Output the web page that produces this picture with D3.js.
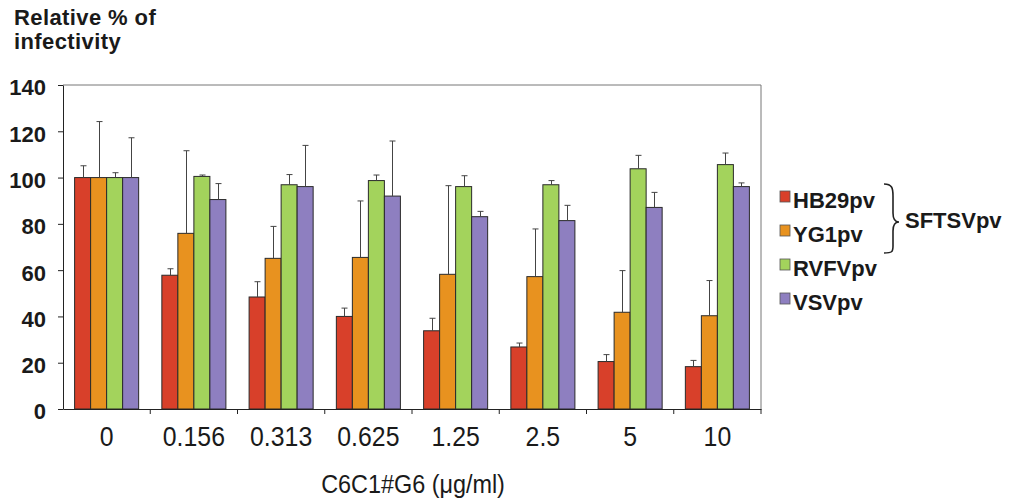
<!DOCTYPE html>
<html>
<head>
<meta charset="utf-8">
<script src="https://cdn.jsdelivr.net/npm/d3@7"></script>
<style>
  body { margin: 0; background: #fff; }
  text { font-family: "Liberation Sans", Arial, sans-serif; fill: #1a1a1a; }
</style>
</head>
<body>
<svg id="chart" width="1016" height="499"></svg>
<script>
// concentrations of C6C1#G6
const categories = ["0", "0.156", "0.313", "0.625", "1.25", "2.5", "5", "10"];
const seriesNames = ["HB29pv", "YG1pv", "RVFVpv", "VSVpv"];
const seriesColors = ["#d8402a", "#e8921f", "#a3d35c", "#8e7fc0"];

// mean relative % of infectivity
const hb29 = [100, 57.8, 48.4, 40.0, 33.8, 26.8, 20.5, 18.3];
const yg1 = [100, 75.9, 65.1, 65.5, 58.2, 57.2, 41.8, 40.3];
const rvfv = [100, 100.5, 96.9, 98.7, 96.1, 96.9, 103.8, 105.6];
const vsv = [100, 90.5, 96.1, 92.0, 83.1, 81.4, 87.1, 96.1];

// top of error bar (mean + sd)
const hb29Err = [105.1, 60.6, 55.0, 43.6, 39.2, 28.5, 23.5, 21.0];
const yg1Err = [124.2, 111.6, 78.9, 89.9, 96.5, 77.8, 59.8, 55.5];
const rvfvErr = [102.1, 101.1, 101.3, 101.1, 100.8, 98.7, 109.6, 110.6];
const vsvErr = [117.2, 97.4, 113.9, 115.8, 85.4, 88.0, 93.6, 97.7];

const yTicks = [0, 20, 40, 60, 80, 100, 120, 140];

const values = [hb29, yg1, rvfv, vsv];
const errs = [hb29Err, yg1Err, rvfvErr, vsvErr];

const plotLeft = 63, plotRight = 761, plotTop = 85, plotBottom = 409;

const svg = d3.select("#chart");

const x0 = d3.scaleBand()
    .domain(categories)
    .range([plotLeft, plotRight])
    .paddingInner(0.266)
    .paddingOuter(0.133);

const x1 = d3.scaleBand()
    .domain(seriesNames)
    .range([0, x0.bandwidth()]);

const y = d3.scaleLinear().domain([0, 140]).range([plotBottom, plotTop]);

// frame lines (top + right)
svg.append("path")
    .attr("d", `M${plotLeft},${plotTop}H${plotRight}V${plotBottom}`)
    .attr("fill", "none")
    .attr("stroke", "#777")
    .attr("stroke-width", 1);

// bars
const rows = [];
categories.forEach((c, i) => {
  seriesNames.forEach((s, j) => {
    rows.push({ cat: c, series: s, j: j, v: values[j][i], e: errs[j][i] });
  });
});

svg.append("g").selectAll("rect")
  .data(rows)
  .join("rect")
    .attr("x", d => x0(d.cat) + x1(d.series))
    .attr("y", d => y(d.v))
    .attr("width", x1.bandwidth())
    .attr("height", d => y(0) - y(d.v))
    .attr("fill", d => seriesColors[d.j])
    .attr("stroke", "#2a2a2a")
    .attr("stroke-width", 1);

// error bars (upper only)
const eg = svg.append("g").attr("stroke", "#444").attr("stroke-width", 1);
rows.forEach(d => {
  const cx = Math.round(x0(d.cat) + x1(d.series) + x1.bandwidth() / 2) + 0.5;
  eg.append("line")
    .attr("x1", cx).attr("x2", cx)
    .attr("y1", y(d.v)).attr("y2", y(d.e));
  eg.append("line")
    .attr("x1", cx - 3).attr("x2", cx + 3)
    .attr("y1", y(d.e)).attr("y2", y(d.e));
});

// y axis
svg.append("g")
    .attr("transform", `translate(${plotLeft},0)`)
    .call(d3.axisLeft(y).tickValues(yTicks).tickSize(5).tickPadding(12).tickSizeOuter(0))
    .call(g => g.select(".domain").attr("stroke", "#222"))
    .call(g => g.selectAll(".tick line").attr("stroke", "#222"))
    .call(g => g.selectAll(".tick text")
        .attr("font-size", 22)
        .attr("font-weight", "bold")
        .attr("font-family", "Liberation Sans, Arial, sans-serif")
        .attr("fill", "#1a1a1a")
        .attr("dy", "0.45em"));

// x axis: labels at group centres, ticks at group boundaries
svg.append("g")
    .attr("transform", `translate(0,${plotBottom})`)
    .call(d3.axisBottom(x0).tickSize(0).tickPadding(18))
    .call(g => g.select(".domain").attr("stroke", "#222"))
    .call(g => g.selectAll(".tick text")
        .attr("font-size", 27)
        .attr("transform", "scale(0.92,1)")
        .attr("font-family", "Liberation Sans, Arial, sans-serif")
        .attr("fill", "#111"));

const pad = (x0.step() - x0.bandwidth()) / 2;
const bounds = categories.map(c => x0(c) - pad).concat([plotRight]);
svg.append("g").selectAll("line")
  .data(bounds.slice(1))
  .join("line")
    .attr("x1", d => d).attr("x2", d => d)
    .attr("y1", plotBottom).attr("y2", plotBottom + 5)
    .attr("stroke", "#222");

// titles
svg.append("text")
    .attr("x", 14).attr("y", 25)
    .attr("font-size", 22).attr("font-weight", "bold")
    .attr("letter-spacing", 0.4)
    .text("Relative % of");
svg.append("text")
    .attr("x", 14).attr("y", 49)
    .attr("font-size", 22).attr("font-weight", "bold")
    .attr("letter-spacing", 0.4)
    .text("infectivity");

svg.append("text")
    .attr("transform", "translate(413,493) scale(0.9,1)")
    .attr("text-anchor", "middle")
    .attr("font-size", 26)
    .attr("fill", "#111")
    .text("C6C1#G6 (μg/ml)");

// legend
const legend = svg.append("g");
seriesNames.forEach((s, j) => {
  const ly = 208 + j * 34;
  legend.append("rect")
    .attr("x", 780).attr("y", ly - 17)
    .attr("width", 10).attr("height", 11)
    .attr("fill", seriesColors[j])
    .attr("stroke", "#555").attr("stroke-width", 0.8);
  legend.append("text")
    .attr("x", 793).attr("y", ly)
    .attr("font-size", 22).attr("font-weight", "bold")
    .text(s);
});

// brace grouping HB29pv and YG1pv
legend.append("path")
    .attr("d", "M884,184 C892,184 893,188 893,196 L893,213 C893,219 895,222 899,222 C895,222 893,225 893,231 L893,246 C893,252 892,253 884,253")
    .attr("fill", "none")
    .attr("stroke", "#222")
    .attr("stroke-width", 1.6);
legend.append("text")
    .attr("x", 905).attr("y", 228)
    .attr("font-size", 22).attr("font-weight", "bold")
    .text("SFTSVpv");
</script>
</body>
</html>
